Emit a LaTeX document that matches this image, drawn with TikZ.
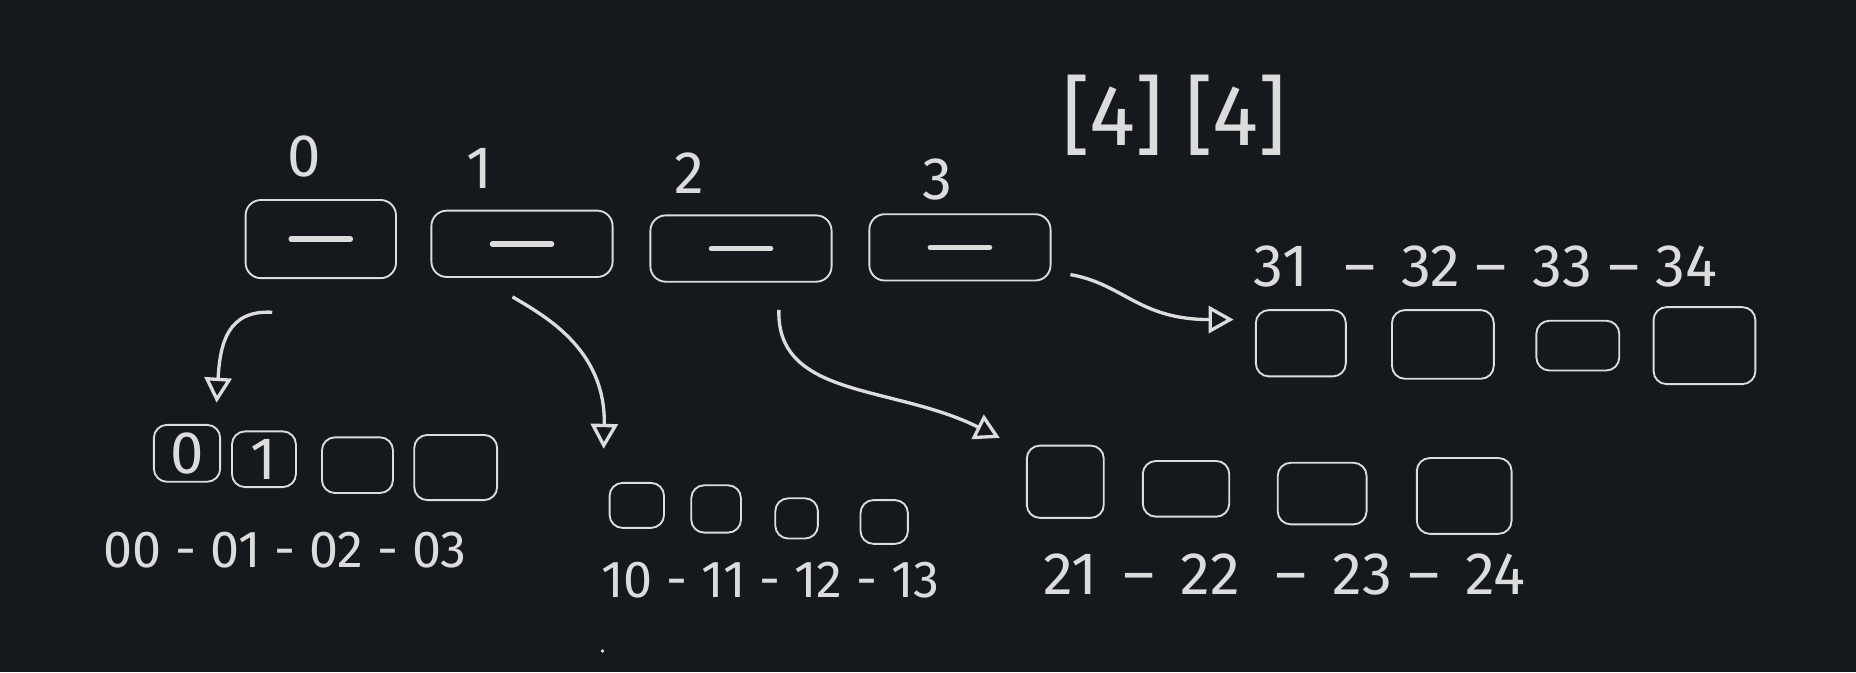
\documentclass[tikz,border=0pt]{standalone}
\usepackage{fontspec}
\setsansfont{Fira Sans}
\usetikzlibrary{arrows.meta,calc,positioning}

\definecolor{board}{HTML}{15181D}
\definecolor{chalk}{HTML}{DCDCDC}

\begin{document}
\begin{tikzpicture}[x=0.01cm,y=-0.01cm,
                    every node/.style={font=\sffamily\Large,text=chalk},
                    slot/.style={draw=chalk,line width=0.45pt,rounded corners=1.3mm,inner sep=0pt,
                                 minimum width=1.53cm,minimum height=0.56cm,
                                 path picture={\draw[chalk,line width=1.3pt,line cap=round]
                                   ($(path picture bounding box.center)+(-25,0)$) -- +(50,0);}},
                    cell/.style={draw=chalk,line width=0.45pt,rounded corners=1.1mm,inner sep=0pt},
                    idx/.style={font=\sffamily\Large,inner sep=1pt},
                    row/.style={font=\sffamily\fontsize{12.5}{15}\selectfont},
                    ptr/.style={draw=chalk,line width=0.8pt,
                                -{Triangle[open,length=6pt,width=6.5pt]}}]
    % board
    \fill[board] (0,0) rectangle (1568,568);
    \useasboundingbox (0,0) rectangle (1568,568);

    % outer array [4][4]
    \node[font=\sffamily\huge] (dims) at (992,97) {[4] [4]};
    \node[slot,minimum width=1.27cm,minimum height=0.66cm] (t0) at (271,202) {};
    \node[slot] (t1) at (441,206) {};
    \node[slot] (t2) at (626,210) {};
    \node[slot] (t3) at (811,209) {};
    \node[idx] (i0) at (257,132) {0};
    \node[idx] (i1) at (405,142) {1};
    \node[idx] (i2) at (582,146) {2};
    \node[idx] (i3) at (792,152) {3};

    % row 0
    \node[cell,minimum width=0.56cm,minimum height=0.48cm] (g00) at (158,383) {0};
    \node[cell,minimum width=0.54cm,minimum height=0.47cm] (g01) at (223,388) {1};
    \node[cell,minimum width=0.6cm,minimum height=0.47cm] (g02) at (302,393) {};
    \node[cell,minimum width=0.7cm,minimum height=0.55cm] (g03) at (385,395) {};
    \node[row] (l0) at (241,465) {00 - 01 - 02 - 03};

    % row 1
    \node[cell,minimum width=0.46cm,minimum height=0.38cm] (g10) at (538,427) {};
    \node[cell,minimum width=0.42cm,minimum height=0.4cm] (g11) at (605,430) {};
    \node[cell,minimum width=0.36cm,minimum height=0.34cm] (g12) at (673,438) {};
    \node[cell,minimum width=0.4cm,minimum height=0.37cm] (g13) at (747,441) {};
    \node[row] (l1) at (651,490) {10 - 11 - 12 - 13};
    \fill[chalk] (509,550) circle (1.6);

    % row 2
    \node[cell,minimum width=0.65cm,minimum height=0.61cm] (g20) at (900,407) {};
    \node[cell,minimum width=0.73cm,minimum height=0.47cm] (g21) at (1002,413) {};
    \node[cell,minimum width=0.75cm,minimum height=0.52cm] (g22) at (1117,417) {};
    \node[cell,minimum width=0.8cm,minimum height=0.64cm] (g23) at (1237,419) {};
    \node (l2) at (1085,485) {21 \,--\, 22 \,\,--\, 23 --\, 24};

    % row 3
    \node[cell,minimum width=0.76cm,minimum height=0.56cm] (g30) at (1099,290) {};
    \node[cell,minimum width=0.86cm,minimum height=0.58cm] (g31) at (1219,291) {};
    \node[cell,minimum width=0.7cm,minimum height=0.42cm] (g32) at (1333,292) {};
    \node[cell,minimum width=0.86cm,minimum height=0.65cm] (g33) at (1440,292) {};
    \node (l3) at (1255,225) {31 \,\,--\, 32 --\, 33 -- 34};

    % pointers
    \coordinate (p0) at ($(t0.south)+(-41,28)$);
    \coordinate (p1) at ($(t1.south)+(-8,16)$);
    \coordinate (p2) at ($(t2.south)+(32,23)$);
    \coordinate (p3) at ($(t3.east)+(16,23)$);
    \coordinate (q0) at ($(g00.north)+(25,-18)$);
    \coordinate (q1) at ($(g10.north)+(-28,-28)$);
    \coordinate (q2) at ($(g20.west)+(-22,-37)$);
    \coordinate (q3) at ($(g30.west)+(-18,-20)$);
    \draw[ptr] (p0) .. controls +(-38,-2) and +(3,-50) .. (q0);
    \draw[ptr] (p1) .. controls +(25,15) and +(2,-85) .. (q1);
    \draw[ptr] (p2) .. controls +(-2,75) and +(-90,-45) .. (q2);
    \draw[ptr] (p3) .. controls +(45,8) and +(-80,0) .. (q3);
\end{tikzpicture}
\end{document}
